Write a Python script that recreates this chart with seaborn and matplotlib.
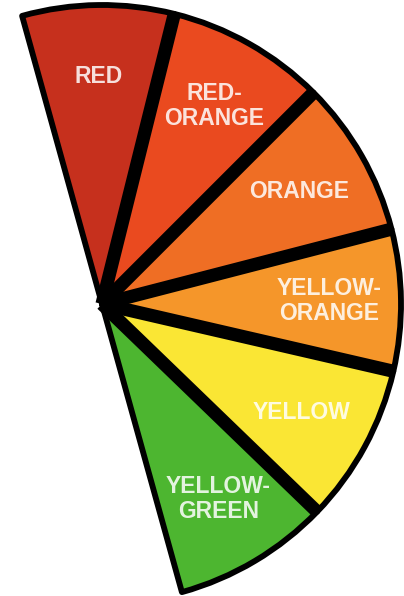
import numpy as np
import matplotlib
matplotlib.use("Agg")
import matplotlib.pyplot as plt
import seaborn as sns

# ---- data ----
categories = ["RED", "RED-\nORANGE", "ORANGE", "YELLOW-\nORANGE", "YELLOW", "YELLOW-\nGREEN"]
sizes_deg = [29.5, 31, 30.5, 27.5, 31, 30.5]   # angular span of each wedge (half circle)
colors_hex = ["#C6301D", "#EA4A1F", "#EF6E24", "#F5962A", "#FAE634", "#4DB630"]

sns.set_theme(style="white")
plt.rcParams['font.family'] = ['Liberation Sans', 'DejaVu Sans']

fig = plt.figure(figsize=(4.04, 5.96), dpi=100)
ax = fig.add_axes([0, 0, 1, 1])

palette = sns.color_palette(colors_hex)
fractions = np.array(sizes_deg) / 360.0
start = 105.5

wedges, texts = ax.pie(
    fractions, labels=categories, colors=palette, normalize=False,
    startangle=start, counterclock=False, labeldistance=0.76,
    wedgeprops=dict(edgecolor="black", linewidth=4.2, joinstyle="round"),
    textprops=dict(color="white", alpha=0.85, fontsize=16.5, fontweight="bold",
                   ha="center", va="center", linespacing=1.1),
)

# thick separators between neighbouring wedges, derived from the wedge sizes
bounds = start - np.cumsum(sizes_deg)[:-1]
for b in bounds:
    t = np.deg2rad(b)
    ax.plot([0, np.cos(t)], [0, np.sin(t)], color="black", lw=9.5,
            solid_capstyle="butt", zorder=3)

ppu = 299.0  # pixels per unit
cx, cy = 102.0, 304.0
ax.set_xlim(-cx / ppu, (404 - cx) / ppu)
ax.set_ylim(-(596 - cy) / ppu, cy / ppu)
ax.set_aspect("auto")
ax.axis("off")

fig.savefig("out.png", dpi=100, facecolor="white")
